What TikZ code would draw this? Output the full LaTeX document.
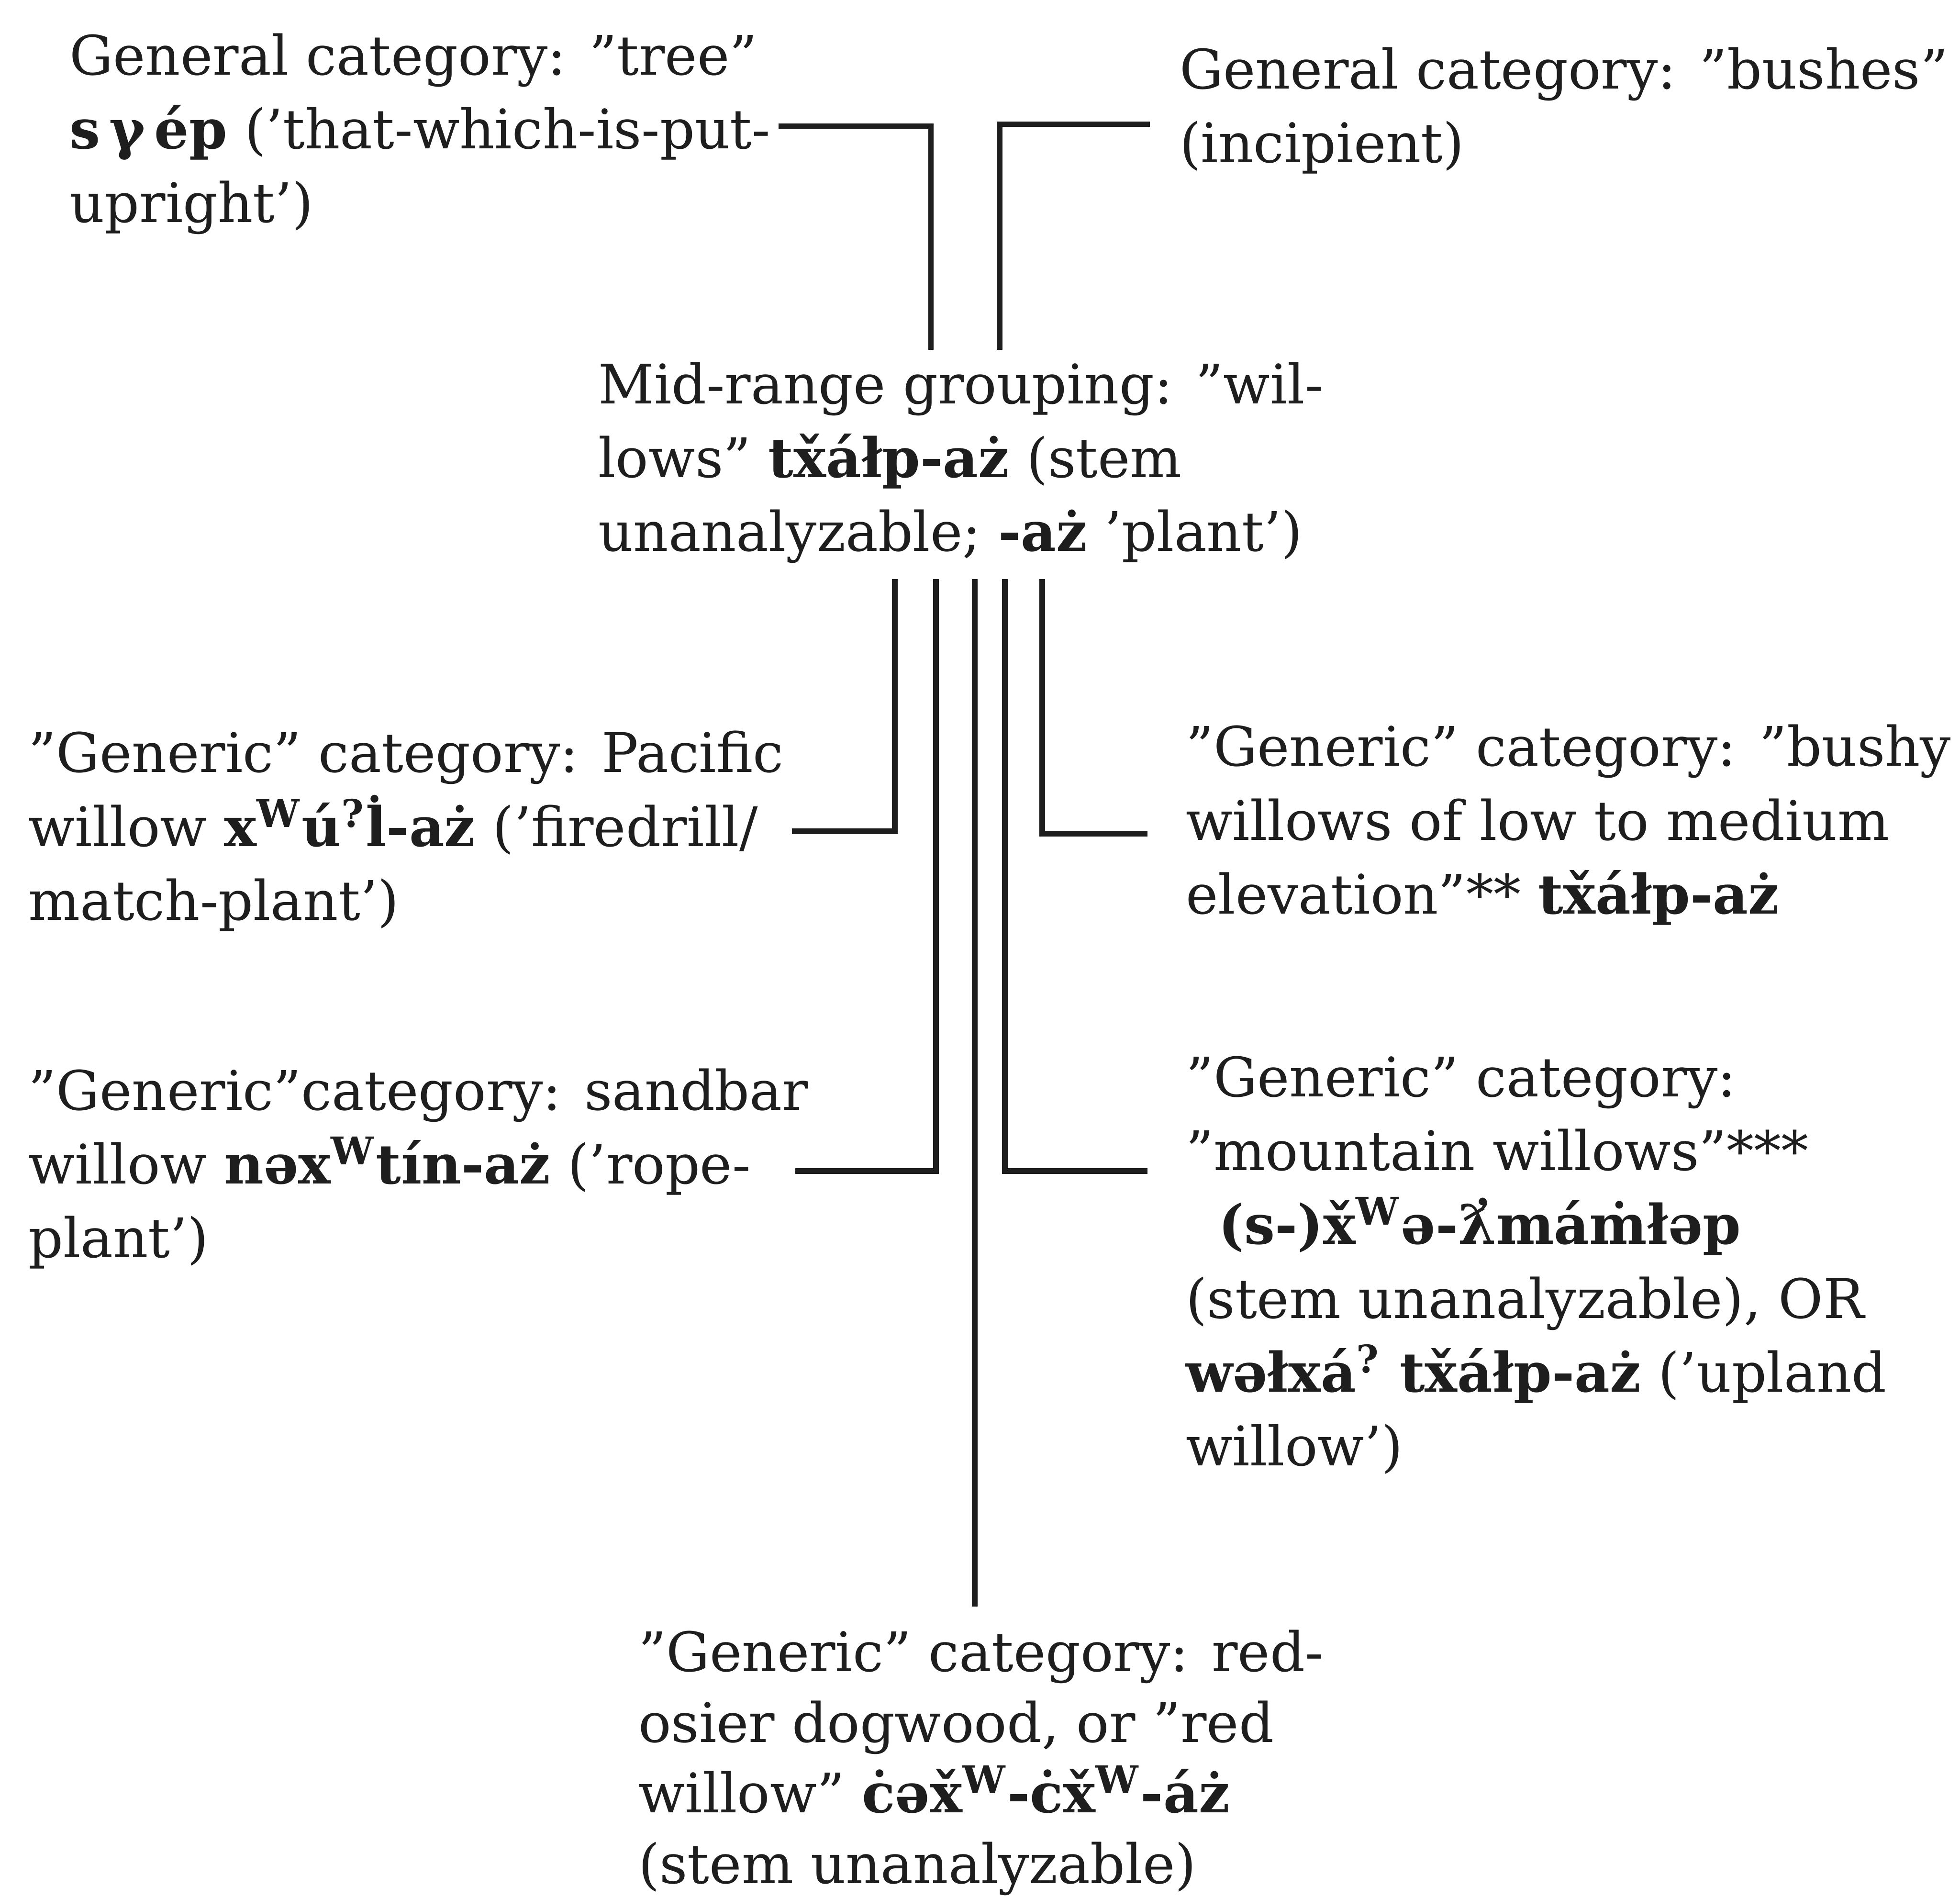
\documentclass[tikz,border=0pt]{standalone}
\usepackage{fontspec}
\setmainfont{DejaVu Serif}
\usetikzlibrary{calc}
\definecolor{ink}{RGB}{30,30,30}
\newcommand{\lf}[1]{\textbf{#1}}
\newcommand{\rW}{\textsuperscript{W}}
\newcommand{\gq}{\textsuperscript{?}}

\begin{document}
\begin{tikzpicture}[
  x=0.01cm,y=-0.01cm,
  line join=miter,
  txt/.style={font=\fontsize{12.4}{16.8}\selectfont,text=ink,align=left,
    anchor=north west,inner sep=0pt},
  link/.style={draw=ink,line width=1.3pt}
]
\useasboundingbox[fill=white] (0,0) rectangle (1568,1518);

% general categories
\node[txt] (tree) at (55,26)
  {General category: ''tree''\\
   \lf{s\,γ\,ép} ('that-which-is-put-\\
   upright')};
\node[txt] (bush) at (943,37)
  {General category: ''bushes''\\
   (incipient)};

% mid-range grouping
\node[txt] (mid) at (478,289)
  {Mid-range grouping: ''wil-\\
   lows'' \lf{tx̌áłp-aż} (stem\\
   unanalyzable; \lf{-aż} 'plant')};

% generic categories
\node[txt] (pac) at (22,584)
  {''Generic'' category: Pacific\\
   willow \lf{x\rW ú\gq l̇-aż} ('firedrill/\\
   match-plant')};
\node[txt] (sand) at (22,854)
  {''Generic''category: sandbar\\
   willow \lf{nəx\rW tín-aż} ('rope-\\
   plant')};
\node[txt] (bushy) at (948,579)
  {''Generic'' category: ''bushy\\
   willows of low to medium\\
   elevation''** \lf{tx̌áłp-aż}};
\node[txt] (mtn) at (948,844)
  {''Generic'' category:\\
   ''mountain willows''***\\
   \hspace*{0.6em}\lf{(s-)x̌\rW ə-ƛ̓máṁłəp}\\
   (stem unanalyzable), OR\\
   \lf{wəłxá\gq\ tx̌áłp-aż} ('upland\\
   willow')};
\node[txt,font=\fontsize{12.4}{16.1}\selectfont] (dog) at (510,1303)
  {''Generic'' category: red-\\
   osier dogwood, or ''red\\
   willow'' \lf{ċəx̌\rW-ċx̌\rW-áż}\\
   (stem unanalyzable)};

% joins above the grouping
\coordinate (top) at ($(mid.north)+(10,-9)$);
\draw[link] ($(tree.east)+(6,-6)$) -| ($(top)+(-34,0)$);
\draw[link] ($(bush.west)+(-23,11)$) -| ($(top)+(21,0)$);

% joins below the grouping
\coordinate (stem) at ($(mid.south)+(11,12)$);
\draw[link] ($(stem)+(-64,0)$) |- ($(pac.east)+(6,0)$);
\draw[link] ($(stem)+(-31,0)$) |- ($(pac.east |- sand.east)+(9,2)$);
\draw[link] (stem) -- ($(stem |- dog.north)+(0,-18)$);
\draw[link] ($(stem)+(24,0)$) |- ($(mtn.west |- sand.east)+(-30,2)$);
\draw[link] ($(stem)+(54,0)$) |- ($(bushy.west)+(-30,7)$);

\end{tikzpicture}
\end{document}
